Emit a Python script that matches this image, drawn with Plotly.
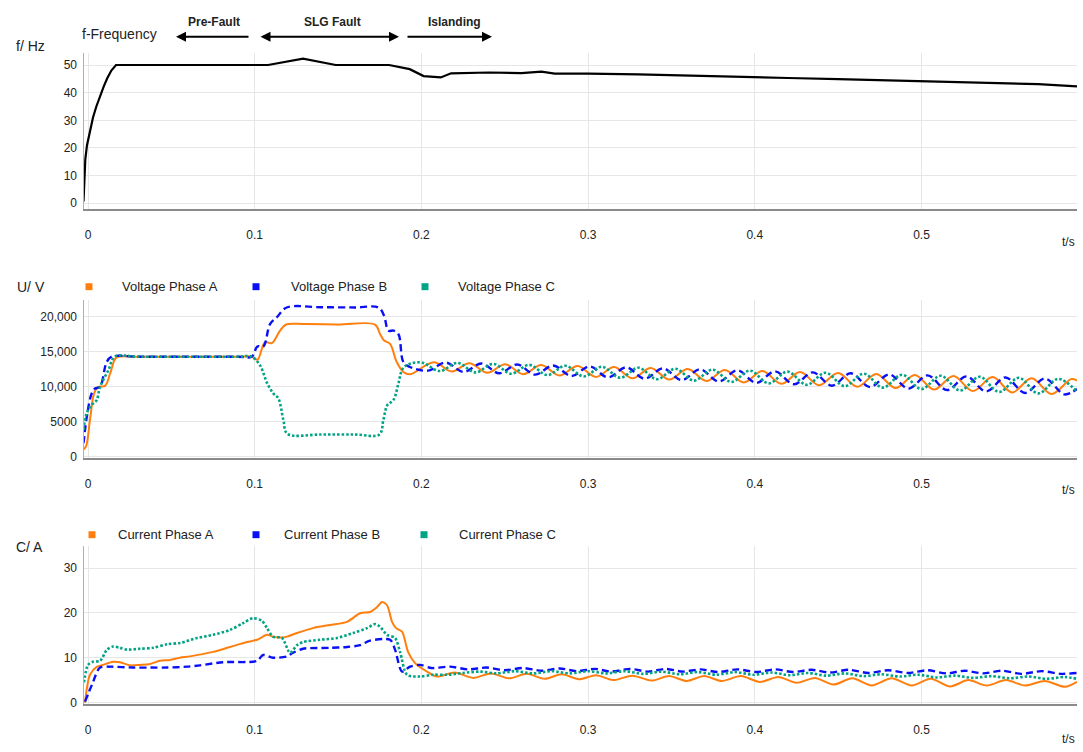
import plotly.graph_objects as go

W, H = 1083, 752

# ---------------- data ----------------
time_ticks = [0, 0.1, 0.2, 0.3, 0.4, 0.5]
time_labels = ["0", "0.1", "0.2", "0.3", "0.4", "0.5"]
freq_ticks = [0, 10, 20, 30, 40, 50]
volt_ticks = [0, 5000, 10000, 15000, 20000]
volt_labels = ["0", "5000", "10,000", "15,000", "20,000"]
curr_ticks = [0, 10, 20, 30]

freq_t = [-0.0027, -0.0023, -0.0016, -0.0006, 0.0012, 0.0030, 0.0050, 0.0072, 0.0094,
          0.0114, 0.0140, 0.0168, 0.1080, 0.1290, 0.1486,
          0.1806, 0.1930, 0.2013, 0.2116, 0.2178, 0.2405, 0.2600, 0.2650, 0.2720,
          0.2800, 0.3000, 0.3300, 0.3600, 0.3900, 0.4200, 0.4500, 0.4800, 0.5100,
          0.5400, 0.5700, 0.5933]
freq_f = [0.6, 10.0, 16.0, 21.0, 26.5, 31.0, 35.0, 38.8, 42.2,
          45.0, 48.0, 50.0, 50.0, 52.3, 50.0,
          50.0, 48.5, 46.0, 45.5, 47.0, 47.3, 47.1, 47.4, 47.6,
          46.9, 46.9, 46.6, 46.1, 45.8, 45.3, 44.9, 44.4, 44.0,
          43.6, 43.1, 42.3]

va_t = [-0.0027, -0.0012, 0.0012, 0.0036, 0.0060, 0.0102, 0.0132, 0.0162, 0.0180,
        0.0300, 0.0600, 0.0900, 0.0982, 0.1016, 0.1062, 0.1102, 0.1152, 0.1188,
        0.1300, 0.1500, 0.1722, 0.1752, 0.1776, 0.1812, 0.1852, 0.1892, 0.1932,
        0.2075, 0.2182, 0.2288, 0.2396, 0.2503, 0.2611, 0.2719, 0.2828, 0.2937,
        0.3047, 0.3156, 0.3266, 0.3376, 0.3487, 0.3598, 0.3710, 0.3821, 0.3934,
        0.4046, 0.4159, 0.4272, 0.4386, 0.4500, 0.4615, 0.4729, 0.4845, 0.4960,
        0.5076, 0.5192, 0.5309, 0.5426, 0.5544, 0.5661, 0.5780, 0.5898, 0.5933]
va_v = [1074, 1499, 5322, 9004, 9995, 10137, 11836, 13960, 14300,
        14300, 14300, 14300, 14300, 13860, 16367, 16226, 18020, 18900,
        18950, 18900, 18870, 17540, 16610, 16130, 13535, 12120, 11790,
        13500, 12190, 13370, 12000, 13230, 11810, 13100, 11610, 12960,
        11420, 12820, 11220, 12680, 11030, 12540, 10830, 12400, 10630,
        12260, 10430, 12120, 10230, 11980, 10020, 11830, 9820, 11690,
        9610, 11540, 9400, 11390, 9200, 11240, 8990, 11100, 10900]

vb_t = [-0.0027, -0.0004, 0.0022, 0.0042, 0.0072, 0.0112, 0.0142, 0.0300, 0.0600,
        0.0900, 0.0982, 0.1016, 0.1052, 0.1092, 0.1132, 0.1192, 0.1400, 0.1600,
        0.1742, 0.1776, 0.1802, 0.1832, 0.1862, 0.1892, 0.1932,
        0.2039, 0.2146, 0.2253, 0.2360, 0.2467, 0.2575, 0.2683, 0.2791, 0.2900,
        0.3010, 0.3119, 0.3229, 0.3339, 0.3450, 0.3561, 0.3672, 0.3784, 0.3896,
        0.4009, 0.4121, 0.4235, 0.4348, 0.4462, 0.4576, 0.4691, 0.4806, 0.4922,
        0.5037, 0.5154, 0.5270, 0.5387, 0.5504, 0.5622, 0.5740, 0.5858, 0.5933]
vb_v = [1967, 6214, 9046, 9754, 9995, 13535, 14300, 14300, 14300,
        14300, 14300, 15760, 15760, 18960, 19907, 21323, 21350, 21330,
        21323, 20150, 18020, 18020, 17540, 13535, 12827,
        12310, 13460, 12120, 13320, 11930, 13190, 11740, 13050, 11550,
        12910, 11350, 12780, 11160, 12640, 10960, 12500, 10760, 12350,
        10560, 12210, 10360, 12070, 10160, 11930, 9960, 11780, 9750,
        11640, 9540, 11490, 9340, 11340, 9130, 11190, 8920, 9700]

vc_t = [-0.0027, -0.0008, 0.0022, 0.0052, 0.0072, 0.0122, 0.0162, 0.0300, 0.0600,
        0.0900, 0.0982, 0.1032, 0.1076, 0.1112, 0.1142, 0.1172, 0.1196, 0.1400,
        0.1600, 0.1748, 0.1772, 0.1796, 0.1832, 0.1862, 0.1888, 0.1932,
        0.2005, 0.2110, 0.2217, 0.2324, 0.2431, 0.2539, 0.2647, 0.2756, 0.2864,
        0.2974, 0.3083, 0.3193, 0.3303, 0.3413, 0.3524, 0.3635, 0.3747, 0.3859,
        0.3971, 0.4084, 0.4197, 0.4311, 0.4425, 0.4539, 0.4654, 0.4768, 0.4884,
        0.4999, 0.5116, 0.5231, 0.5349, 0.5466, 0.5584, 0.5701, 0.5820, 0.5933]
vc_v = [3864, 6214, 7403, 8112, 9995, 12360, 14300, 14300, 14300,
        14300, 14300, 13064, 10462, 9046, 8338, 5280, 3300, 3200,
        3200, 3200, 5280, 7403, 8112, 10462, 12587, 13300,
        13450, 12250, 13410, 12060, 13280, 11870, 13140, 11680, 13010,
        11480, 12870, 11290, 12730, 11090, 12590, 10890, 12450, 10700,
        12310, 10500, 12170, 10290, 12020, 10090, 11880, 9890, 11730,
        9680, 11590, 9470, 11440, 9270, 11290, 9060, 11140, 9300]

ia_t = [-0.0018, 0.0012, 0.0054, 0.0090, 0.0150, 0.0192, 0.0252, 0.0312, 0.0372,
        0.0432, 0.0492, 0.0552, 0.0612, 0.0750, 0.0852, 0.0954, 0.1014, 0.1074,
        0.1110, 0.1152, 0.1194, 0.1254, 0.1350, 0.1452, 0.1554, 0.1632, 0.1692,
        0.1734, 0.1764, 0.1794, 0.1824, 0.1848, 0.1884, 0.1920, 0.1962, 0.2034,
        0.2094, 0.2200, 0.2310, 0.2418, 0.2525, 0.2632, 0.2740, 0.2842, 0.2945,
        0.3048, 0.3151, 0.3266, 0.3381, 0.3486, 0.3591, 0.3696, 0.3801, 0.3916,
        0.4031, 0.4141, 0.4251, 0.4361, 0.4471, 0.4586, 0.4701, 0.4821, 0.4941,
        0.5056, 0.5171, 0.5281, 0.5391, 0.5506, 0.5621, 0.5741, 0.5861, 0.5933]
ia_v = [0.0, 6.2, 8.0, 8.4, 9.1, 9.0, 8.3, 8.4, 8.6,
        9.3, 9.5, 10.0, 10.3, 11.3, 12.4, 13.5, 14.0, 15.1,
        14.7, 14.5, 14.7, 15.5, 16.6, 17.3, 18.0, 19.9, 20.2,
        21.3, 22.4, 21.7, 18.0, 16.6, 15.8, 11.3, 8.8, 6.9,
        5.8, 6.7, 5.5, 6.5, 5.4, 6.4, 5.3, 6.3, 5.2,
        6.1, 5.0, 6.0, 4.9, 5.9, 4.8, 5.9, 4.8, 5.9,
        4.6, 5.7, 4.4, 5.5, 4.0, 5.4, 3.8, 5.4, 3.8,
        5.3, 3.6, 5.0, 3.8, 5.0, 3.8, 4.8, 3.5, 4.6]

ib_t = [-0.0018, 0.0024, 0.0072, 0.0132, 0.0270, 0.0372, 0.0474, 0.0594, 0.0672,
        0.0810, 0.1014, 0.1050, 0.1110, 0.1194, 0.1230, 0.1290, 0.1452, 0.1554,
        0.1632, 0.1692, 0.1812, 0.1842, 0.1884, 0.1932, 0.1992,
        0.2060, 0.2170, 0.2280, 0.2390, 0.2500, 0.2610, 0.2720, 0.2830, 0.2935,
        0.3040, 0.3140, 0.3250, 0.3360, 0.3465, 0.3570, 0.3675, 0.3780, 0.3895,
        0.4010, 0.4120, 0.4230, 0.4340, 0.4450, 0.4565, 0.4680, 0.4800, 0.4920,
        0.5035, 0.5150, 0.5260, 0.5370, 0.5485, 0.5600, 0.5720, 0.5840, 0.5933]
ib_v = [0.2, 4.0, 7.8, 8.0, 7.8, 7.8, 7.8, 8.0, 8.3,
        9.0, 9.3, 10.6, 10.0, 10.3, 11.1, 12.0, 12.2, 12.4,
        12.8, 13.8, 14.0, 11.8, 6.9, 8.0, 8.4,
        7.7, 8.0, 7.4, 7.8, 7.2, 7.7, 7.1, 7.6, 7.0,
        7.5, 6.9, 7.5, 6.9, 7.5, 6.9, 7.4, 6.8, 7.4,
        6.8, 7.4, 6.8, 7.3, 6.7, 7.3, 6.6, 7.2, 6.6,
        7.2, 6.5, 7.1, 6.5, 7.1, 6.4, 7.0, 6.4, 6.6]

ic_t = [-0.0024, 0.0000, 0.0030, 0.0072, 0.0114, 0.0150, 0.0192, 0.0234, 0.0312,
        0.0390, 0.0474, 0.0552, 0.0654, 0.0750, 0.0852, 0.0930, 0.0990, 0.1044,
        0.1074, 0.1110, 0.1164, 0.1212, 0.1254, 0.1290, 0.1392, 0.1494, 0.1590,
        0.1674, 0.1722, 0.1752, 0.1794, 0.1842, 0.1872, 0.1914, 0.1992, 0.2070,
        0.2154, 0.2250, 0.2352, 0.2450, 0.2560, 0.2670, 0.2780, 0.2890, 0.3000,
        0.3110, 0.3220, 0.3330, 0.3440, 0.3550, 0.3660, 0.3770, 0.3880, 0.3990,
        0.4100, 0.4210, 0.4320, 0.4430, 0.4540, 0.4650, 0.4760, 0.4870, 0.4980,
        0.5090, 0.5200, 0.5310, 0.5420, 0.5530, 0.5640, 0.5750, 0.5860, 0.5933]
ic_v = [4.5, 8.4, 9.1, 9.3, 11.8, 12.5, 12.2, 11.8, 12.0,
        12.2, 13.0, 13.3, 14.4, 15.1, 16.2, 17.7, 18.8, 18.2,
        16.6, 14.7, 14.4, 11.1, 12.8, 13.5, 14.0, 14.4, 15.5,
        16.6, 17.5, 16.9, 15.1, 14.4, 11.3, 6.2, 5.8, 6.2,
        6.2, 6.6, 6.9, 6.5, 7.0, 6.5, 7.0, 6.5, 7.0,
        6.5, 7.0, 6.4, 6.9, 6.3, 6.8, 6.2, 6.8, 6.2,
        6.7, 6.1, 6.6, 6.0, 6.5, 5.9, 6.3, 5.8, 6.2,
        5.6, 6.0, 5.5, 5.9, 5.4, 5.8, 5.3, 5.7, 5.3]

volt_names = ["Voltage Phase A", "Voltage Phase B", "Voltage Phase C"]
curr_names = ["Current Phase A", "Current Phase B", "Current Phase C"]

# ---------------- styling ----------------
ORANGE = "#FF7F0E"
BLUE = "#0A10F5"
GREEN = "#00A383"
FONT = "Liberation Sans, Arial, sans-serif"
TXT = "#222222"


def px(x):
    return x / W


def py(y):
    return 1 - y / H


styles = [
    dict(color=ORANGE, width=2.0, dash="solid"),
    dict(color=BLUE, width=2.4, dash="7px,4px"),
    dict(color=GREEN, width=2.6, dash="2.5px,2px"),
]

fig = go.Figure()
fig.add_trace(go.Scatter(x=freq_t, y=freq_f, mode="lines",
                         line=dict(color="black", width=2.2),
                         xaxis="x", yaxis="y", showlegend=False, hoverinfo="skip"))

for (t, v), st, name in zip([(va_t, va_v), (vb_t, vb_v), (vc_t, vc_v)], styles, volt_names):
    fig.add_trace(go.Scatter(x=t, y=v, mode="lines", name=name,
                             line=dict(shape="spline", smoothing=1.0, **st),
                             xaxis="x2", yaxis="y2", showlegend=False))

for (t, v), st, name in zip([(ia_t, ia_v), (ib_t, ib_v), (ic_t, ic_v)], styles, curr_names):
    fig.add_trace(go.Scatter(x=t, y=v, mode="lines", name=name,
                             line=dict(shape="spline", smoothing=0.8, **st),
                             xaxis="x3", yaxis="y3", showlegend=False))

xdom = [px(83.5), px(1077)]
xcommon = dict(domain=xdom, range=[-0.0027, 0.5933], tickvals=time_ticks, ticktext=time_labels,
               showgrid=True, gridcolor="#E6E6E6", gridwidth=1, zeroline=False,
               showline=True, linecolor="#8A8A8A", linewidth=1.5, ticks="",
               tickfont=dict(family=FONT, size=12, color=TXT), ticklabelstandoff=14)
ycommon = dict(showgrid=True, gridcolor="#E6E6E6", gridwidth=1, zeroline=False,
               showline=True, linecolor="#B0B0B0", linewidth=1.2, ticks="",
               tickfont=dict(family=FONT, size=12, color=TXT), ticklabelstandoff=3)

fig.update_layout(
    width=W, height=H,
    margin=dict(l=0, r=0, t=0, b=0),
    paper_bgcolor="white", plot_bgcolor="white",
    font=dict(family=FONT, color=TXT),
    showlegend=False,
    xaxis=dict(anchor="y", **xcommon),
    yaxis=dict(anchor="x", domain=[py(211), py(53)], range=[-2.2, 54.5], tickvals=freq_ticks, **ycommon),
    xaxis2=dict(anchor="y2", **xcommon),
    yaxis2=dict(anchor="x2", domain=[py(462), py(302)], range=[-200, 22450],
                tickvals=volt_ticks, ticktext=volt_labels, **ycommon),
    xaxis3=dict(anchor="y3", **xcommon),
    yaxis3=dict(anchor="x3", domain=[py(710), py(550)], range=[-0.4, 35], tickvals=curr_ticks, **ycommon),
)

ann = []


def text(x, y, s, size=14, anchor="left", bold=False):
    ann.append(dict(x=px(x), y=py(y), xref="paper", yref="paper", text=("<b>%s</b>" % s) if bold else s,
                    showarrow=False, xanchor=anchor, yanchor="middle",
                    font=dict(family=FONT, size=size, color=TXT)))


# axis titles
text(14, 46, "f/ Hz")
text(15, 289, "U/ V")
text(14, 551, "C/ A")
text(80, 34, "f-Frequency")
for yy in (244, 494, 745):
    text(1068, yy, "t/s", size=12, anchor="center")

# phase annotations
text(214, 22, "Pre-Fault", size=12, anchor="center", bold=True)
text(332, 22, "SLG Fault", size=12, anchor="center", bold=True)
text(454, 22, "Islanding", size=12, anchor="center", bold=True)


def arrow(x_head, x_tail, y, both=False):
    ann.append(dict(x=px(x_head), y=py(y), xref="paper", yref="paper", ax=x_tail - x_head, ay=0,
                    axref="pixel", ayref="pixel", text="", showarrow=True, arrowhead=2, arrowsize=1,
                    arrowwidth=2, arrowcolor="black", arrowside="end+start" if both else "end"))


arrow(176, 250, 37)
arrow(399, 259, 37, both=True)
arrow(492, 406, 37)

# custom legends
shapes = []
colors = [ORANGE, BLUE, GREEN]
for (sx, tx), name, c in zip([(89, 120), (256, 289), (425, 456)], volt_names, colors):
    shapes.append(dict(type="rect", xref="paper", yref="paper", x0=px(sx - 3.5), x1=px(sx + 3.5),
                       y0=py(289 + 3.5), y1=py(289 - 3.5), fillcolor=c, line=dict(width=0)))
    text(tx, 289, name, size=13)
for (sx, tx), name, c in zip([(92, 116), (256, 282), (424, 457)], curr_names, colors):
    shapes.append(dict(type="rect", xref="paper", yref="paper", x0=px(sx - 3.5), x1=px(sx + 3.5),
                       y0=py(539 + 3.5), y1=py(539 - 3.5), fillcolor=c, line=dict(width=0)))
    text(tx, 539, name, size=13)

fig.update_layout(annotations=ann, shapes=shapes)
fig.write_html("out.html")
